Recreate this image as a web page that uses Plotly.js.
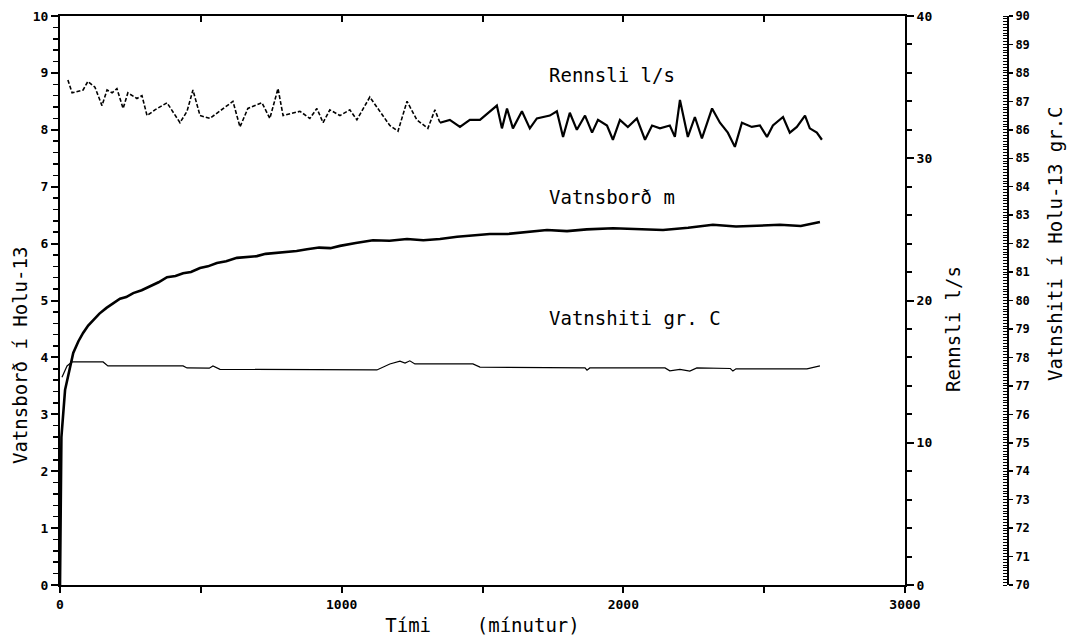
<!DOCTYPE html>
<html>
<head>
<meta charset="utf-8">
<script src="https://cdn.plot.ly/plotly-3.0.1.min.js"></script>
<style>html,body{margin:0;padding:0;background:#fff;}#chart{width:1071px;height:643px;}</style>
</head>
<body>
<div id="chart"></div>
<script>
// Vatnsborð (water level, m) – left axis
const levelTime = [0, 5, 18, 35, 47, 65, 82, 100, 118, 140, 165, 190, 213, 235, 260, 290, 320, 350, 380, 410, 437, 465, 497, 525, 557, 590, 628, 660, 699, 730, 756, 800, 840, 877, 920, 960, 994, 1050, 1111, 1170, 1232, 1290, 1349, 1410, 1466, 1526, 1590, 1660, 1729, 1800, 1870, 1964, 2050, 2141, 2230, 2318, 2400, 2480, 2556, 2630, 2698];
const levelValue = [0, 2.6, 3.43, 3.83, 4.08, 4.28, 4.43, 4.56, 4.66, 4.77, 4.87, 4.95, 5.03, 5.06, 5.13, 5.18, 5.25, 5.32, 5.41, 5.43, 5.48, 5.50, 5.57, 5.60, 5.66, 5.69, 5.75, 5.76, 5.78, 5.82, 5.83, 5.86, 5.87, 5.90, 5.93, 5.92, 5.96, 6.01, 6.06, 6.05, 6.08, 6.06, 6.08, 6.12, 6.15, 6.17, 6.17, 6.20, 6.24, 6.22, 6.25, 6.27, 6.25, 6.24, 6.28, 6.33, 6.30, 6.32, 6.33, 6.31, 6.38];

// Rennsli (flow, l/s) – right axis
const flowTime = [28, 43, 82, 99, 124, 149, 167, 185, 202, 224, 241, 273, 291, 309, 337, 380, 426, 451, 472, 497, 532, 579, 614, 639, 667, 717, 745, 774, 792, 852, 887, 912, 934, 958, 994, 1029, 1054, 1100, 1136, 1171, 1200, 1232, 1267, 1306, 1331, 1349, 1384, 1420, 1455, 1491, 1551, 1569, 1587, 1608, 1640, 1668, 1693, 1739, 1764, 1786, 1810, 1835, 1864, 1889, 1910, 1942, 1963, 1988, 2016, 2048, 2077, 2102, 2130, 2165, 2183, 2201, 2229, 2254, 2279, 2315, 2343, 2371, 2396, 2421, 2456, 2485, 2510, 2531, 2567, 2591, 2616, 2645, 2662, 2687, 2705];
const flowValue = [35.5, 34.6, 34.8, 35.4, 35.0, 33.7, 34.8, 34.6, 34.9, 33.5, 34.6, 34.2, 34.4, 33.0, 33.4, 33.9, 32.5, 33.3, 34.8, 33.0, 32.8, 33.5, 34.0, 32.2, 33.5, 33.9, 32.8, 34.9, 33.0, 33.3, 32.8, 33.5, 32.5, 33.4, 33.0, 33.4, 32.7, 34.3, 33.3, 32.3, 31.9, 34.0, 32.7, 32.1, 33.4, 32.5, 32.7, 32.2, 32.7, 32.7, 33.7, 32.1, 33.5, 32.1, 33.3, 32.1, 32.8, 33.0, 33.3, 31.5, 33.2, 32.0, 33.0, 31.8, 32.7, 32.3, 31.3, 32.7, 32.2, 32.8, 31.3, 32.3, 32.1, 32.3, 31.5, 34.1, 31.5, 32.9, 31.4, 33.5, 32.5, 31.8, 30.8, 32.5, 32.2, 32.3, 31.5, 32.3, 32.9, 31.8, 32.2, 33.0, 32.1, 31.8, 31.3];

// Vatnshiti (water temperature, gr. C) – outer right axis
const tempTime = [7, 25, 43, 153, 170, 437, 451, 530, 543, 568, 1125, 1171, 1207, 1225, 1242, 1260, 1466, 1491, 1864, 1871, 1881, 2148, 2165, 2201, 2236, 2261, 2380, 2389, 2400, 2652, 2698];
const tempValue = [77.3, 77.7, 77.84, 77.84, 77.70, 77.70, 77.63, 77.62, 77.70, 77.58, 77.56, 77.77, 77.87, 77.80, 77.88, 77.77, 77.77, 77.66, 77.63, 77.55, 77.63, 77.63, 77.53, 77.58, 77.52, 77.63, 77.61, 77.52, 77.60, 77.60, 77.70];

const labelFont = {family: 'DejaVu Sans Mono', size: 19, color: '#000'};
const tickFont = {family: 'DejaVu Sans Mono', size: 13, color: '#000', weight: 700};

const split = 1349;
const flowA = {x: [], y: []}, flowB = {x: [], y: []};
flowTime.forEach((t, i) => {
  if (t <= split) { flowA.x.push(t); flowA.y.push(flowValue[i]); }
  if (t >= split) { flowB.x.push(t); flowB.y.push(flowValue[i]); }
});

const traces = [
  {x: levelTime, y: levelValue, type: 'scatter', mode: 'lines', line: {color: '#000', width: 2.6}, xaxis: 'x', yaxis: 'y', name: 'Vatnsborð m'},
  {x: flowA.x, y: flowA.y, type: 'scatter', mode: 'lines', line: {color: '#000', width: 1.6, dash: '4px,2px'}, xaxis: 'x', yaxis: 'y2', name: 'Rennsli l/s'},
  {x: flowB.x, y: flowB.y, type: 'scatter', mode: 'lines', line: {color: '#000', width: 2.2}, xaxis: 'x', yaxis: 'y2', name: 'Rennsli l/s', showlegend: false},
  {x: tempTime, y: tempValue, type: 'scatter', mode: 'lines', line: {color: '#000', width: 1.2}, xaxis: 'x', yaxis: 'y3', name: 'Vatnshiti gr. C'},
  {x: [], y: [], type: 'scatter', mode: 'lines', xaxis: 'x2', yaxis: 'y', showlegend: false, hoverinfo: 'skip'}
];

const W = 1071, H = 643;
const mL = 60, mR = 41, mT = 16, mB = 58;
const plotW = W - mL - mR;
const xDomEnd = 845 / plotW;

const layout = {
  width: W, height: H,
  margin: {l: mL, r: mR, t: mT, b: mB},
  paper_bgcolor: '#fff', plot_bgcolor: '#fff',
  showlegend: false,
  xaxis: {
    domain: [0, xDomEnd], range: [0, 3000], dtick: 1000, tick0: 0,
    showline: true, linecolor: '#000', linewidth: 2, mirror: false,
    ticks: 'outside', ticklen: 6, tickwidth: 2, tickcolor: '#000',
    minor: {dtick: 500, ticks: 'outside', ticklen: 6, tickwidth: 2, tickcolor: '#000'},
    showgrid: false, zeroline: false, tickfont: tickFont,
    title: {text: 'Tími\u00a0\u00a0\u00a0\u00a0(mínutur)', font: labelFont, standoff: 8}
  },
  xaxis2: {
    overlaying: 'x', side: 'top', anchor: 'y', range: [0, 3000], dtick: 500, tick0: 0,
    showline: true, linecolor: '#000', linewidth: 2,
    ticks: 'inside', ticklen: 6, tickwidth: 2, tickcolor: '#000',
    showticklabels: false, showgrid: false, zeroline: false
  },
  yaxis: {
    range: [0, 10], dtick: 1, tick0: 0,
    showline: true, linecolor: '#000', linewidth: 2,
    ticks: 'outside', ticklen: 7, tickwidth: 2, tickcolor: '#000',
    minor: {dtick: 0.2, ticks: 'outside', ticklen: 5, tickwidth: 1.5, tickcolor: '#000'},
    showgrid: false, zeroline: false, tickfont: tickFont
  },
  yaxis2: {
    overlaying: 'y', side: 'right', anchor: 'x', range: [0, 40], dtick: 10, tick0: 0,
    showline: true, linecolor: '#000', linewidth: 2,
    ticks: 'outside', ticklen: 7, tickwidth: 2, tickcolor: '#000',
    minor: {dtick: 2, ticks: 'outside', ticklen: 5, tickwidth: 2, tickcolor: '#000'},
    showgrid: false, zeroline: false, tickfont: tickFont
  },
  yaxis3: {
    overlaying: 'y', side: 'right', anchor: 'free', position: (1008 - mL) / plotW,
    range: [70, 90], dtick: 1, tick0: 70,
    showline: true, linecolor: '#000', linewidth: 2,
    ticks: 'outside', ticklen: 4, tickwidth: 1.5, tickcolor: '#000',
    minor: {dtick: 0.1, ticks: 'inside', ticklen: 4, tickwidth: 1, tickcolor: '#000'},
    showgrid: false, zeroline: false,
    tickfont: {family: 'DejaVu Sans Mono', size: 12, color: '#000', weight: 700}
  },
  annotations: [
    {xref: 'x', yref: 'y', x: 1729, y: 8.96, text: 'Rennsli l/s', showarrow: false, xanchor: 'left', yanchor: 'middle', font: labelFont},
    {xref: 'x', yref: 'y', x: 1729, y: 6.82, text: 'Vatnsborð m', showarrow: false, xanchor: 'left', yanchor: 'middle', font: labelFont},
    {xref: 'x', yref: 'y', x: 1729, y: 4.69, text: 'Vatnshiti gr. C', showarrow: false, xanchor: 'left', yanchor: 'middle', font: labelFont},
    {xref: 'paper', yref: 'paper', x: (20 - mL) / plotW, y: (585 - 356) / 569, text: 'Vatnsborð í Holu-13', textangle: -90, showarrow: false, xanchor: 'center', yanchor: 'middle', font: labelFont},
    {xref: 'paper', yref: 'paper', x: (953 - mL) / plotW, y: (585 - 329) / 569, text: 'Rennsli l/s', textangle: -90, showarrow: false, xanchor: 'center', yanchor: 'middle', font: labelFont},
    {xref: 'paper', yref: 'paper', x: (1055 - mL) / plotW, y: (585 - 244) / 569, text: 'Vatnshiti í Holu-13 gr.C', textangle: -90, showarrow: false, xanchor: 'center', yanchor: 'middle', font: labelFont}
  ]
};

Plotly.newPlot('chart', traces, layout, {staticPlot: true, displayModeBar: false});
</script>
</body>
</html>
